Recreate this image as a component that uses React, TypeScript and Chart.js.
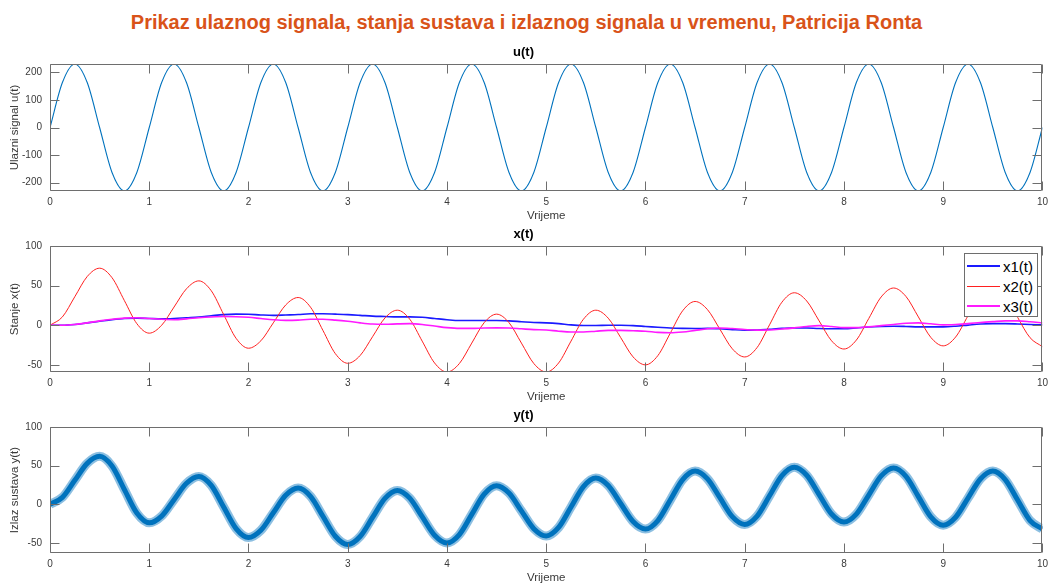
import React, { useEffect, useRef } from 'react';
import { Chart, registerables } from 'chart.js';

Chart.register(...registerables);

// ---------------- data ----------------
const MAIN_TITLE = 'Prikaz ulaznog signala, stanja sustava i izlaznog signala u vremenu, Patricija Ronta';
const X_LABEL = 'Vrijeme';

const T = [
  0, 0.125, 0.25, 0.375, 0.5, 0.625, 0.75, 0.875,
  1, 1.125, 1.25, 1.375, 1.5, 1.625, 1.75, 1.875,
  2, 2.125, 2.25, 2.375, 2.5, 2.625, 2.75, 2.875,
  3, 3.125, 3.25, 3.375, 3.5, 3.625, 3.75, 3.875,
  4, 4.125, 4.25, 4.375, 4.5, 4.625, 4.75, 4.875,
  5, 5.125, 5.25, 5.375, 5.5, 5.625, 5.75, 5.875,
  6, 6.125, 6.25, 6.375, 6.5, 6.625, 6.75, 6.875,
  7, 7.125, 7.25, 7.375, 7.5, 7.625, 7.75, 7.875,
  8, 8.125, 8.25, 8.375, 8.5, 8.625, 8.75, 8.875,
  9, 9.125, 9.25, 9.375, 9.5, 9.625, 9.75, 9.875,
  10,
];

const U = [
  0, 163, 230, 163, 0, -163, -230, -163,
  0, 163, 230, 163, 0, -163, -230, -163,
  0, 163, 230, 163, 0, -163, -230, -163,
  0, 163, 230, 163, 0, -163, -230, -163,
  0, 163, 230, 163, 0, -163, -230, -163,
  0, 163, 230, 163, 0, -163, -230, -163,
  0, 163, 230, 163, 0, -163, -230, -163,
  0, 163, 230, 163, 0, -163, -230, -163,
  0, 163, 230, 163, 0, -163, -230, -163,
  0, 163, 230, 163, 0, -163, -230, -163,
  0,
];

const X1 = [
  0, 0, 1, 3, 5, 7, 8.5, 9,
  8.5, 8, 8.5, 9.5, 10.5, 12, 13.4, 14,
  13.8, 13, 12.5, 13, 13.5, 14.5, 14.5, 14,
  13.4, 12.5, 11.5, 11, 10.5, 10.5, 10, 8.5,
  7, 6, 6, 6, 6, 5.5, 4.5, 3.5,
  3, 2, 0.5, -0.3, -0.4, 0, 0, -0.5,
  -1.5, -2.5, -3.5, -4, -4.2, -4, -4.5, -5.5,
  -6.2, -6, -5, -4, -3.3, -3.5, -4.2, -4.5,
  -4.5, -3.5, -2.2, -1.5, -1.2, -1.5, -2, -2,
  -2, -1.2, 0.2, 1.5, 2, 2, 1.6, 1,
  0.5,
];

const X2 = [
  0, 10.5, 36, 61.5, 72, 60, 31, 2,
  -10, 0, 23, 46, 56, 43.5, 13.5, -16.5,
  -29, -19.6, 3, 25.6, 35, 22.8, -6.5, -35.8,
  -48, -38.2, -14.5, 9.2, 19, 7.6, -20, -47.6,
  -59, -48.3, -22.5, 3.3, 14, 3.3, -22.5, -48.3,
  -59, -47.6, -20, 7.6, 19, 8.9, -15.5, -39.9,
  -50, -38.3, -10, 18.3, 30, 19.7, -5, -29.7,
  -40, -28.1, 0.5, 29.1, 41, 30.6, 5.5, -19.6,
  -30, -18.7, 8.5, 35.7, 47, 36.3, 10.5, -15.3,
  -26, -14.9, 12, 38.9, 50, 38.7, 10, -15.7,
  -27,
];

const X3 = [
  0, 0, 1, 3, 5.5, 7.5, 9, 9.5,
  8.5, 7.5, 7, 8, 9.5, 10.5, 11, 10.8,
  10, 8.5, 7, 6.2, 6.5, 7.5, 7.5, 6.5,
  5, 3, 1.5, 1.2, 1.7, 2, 1, -1,
  -3, -4, -4, -3.5, -3.3, -3.5, -4.5, -5.5,
  -6, -7.5, -8.5, -8.5, -7.5, -6.5, -6.5, -7,
  -7.5, -9, -9.5, -8.5, -6.5, -4.5, -3.5, -4.2,
  -5.4, -6.2, -6, -4.8, -3.3, -1.5, -0.5, -1.5,
  -3, -3, -2, -0.5, 1, 2.5, 3, 1.8,
  0.5, 1, 2, 3.5, 4.6, 5.5, 5.5, 4.5,
  3,
];

const Y = [
  0, 9, 31, 53, 62, 49.4, 19, -11.4,
  -24, -15.2, 6, 27.2, 36, 24.4, -3.5, -31.4,
  -43, -33.6, -11, 11.6, 21, 10.3, -15.5, -41.3,
  -52, -41.7, -17, 7.7, 18, 8, -16, -40,
  -50, -39.2, -13, 13.2, 24, 14.5, -8.5, -31.5,
  -41, -30, -3.5, 23, 34, 24.3, 1, -22.3,
  -32, -21, 5.5, 32, 43, 32.9, 8.5, -15.9,
  -26, -15.2, 11, 37.2, 48, 37.6, 12.5, -12.6,
  -23, -12.7, 12, 36.7, 47, 36.2, 10, -16.2,
  -27, -16.7, 8, 32.7, 43, 32, 5.5, -21,
  -32,
];

const LEGEND_LABELS = ['x1(t)', 'x2(t)', 'x3(t)'];

// ---------------- styling ----------------
const FONT = '"Liberation Sans", Arial, Helvetica, sans-serif';
const TICK_COLOR = '#3a3a3a';
const FRAME_COLOR = '#6e6e6e';
const C_U = '#0072BD';
const C_X1 = '#1a1aff';
const C_X2 = '#ff2020';
const C_X3 = '#ff1aff';

const pts = (ys: number[]) => T.map((t, i) => ({ x: t, y: ys[i] }));

const frameTicks = {
  id: 'frameTicks',
  afterDatasetsDraw(chart: any) {
    const { ctx, chartArea: a } = chart;
    const xs = chart.scales.x;
    const ys = chart.scales.y;
    const L = Math.round(a.left) + 0.5;
    const R = Math.round(a.right) - 0.5;
    const Tp = Math.round(a.top) + 0.5;
    const B = Math.round(a.bottom) - 0.5;
    const len = 9;
    ctx.save();
    ctx.strokeStyle = FRAME_COLOR;
    ctx.lineWidth = 1;
    ctx.beginPath();
    ctx.rect(L, Tp, R - L, B - Tp);
    xs.ticks.forEach((tk: any) => {
      const p = Math.round(xs.getPixelForValue(tk.value)) + 0.5;
      ctx.moveTo(p, B);
      ctx.lineTo(p, B - len);
      ctx.moveTo(p, Tp);
      ctx.lineTo(p, Tp + len);
    });
    ys.ticks.forEach((tk: any) => {
      const p = Math.round(ys.getPixelForValue(tk.value)) + 0.5;
      ctx.moveTo(L, p);
      ctx.lineTo(L + len, p);
      ctx.moveTo(R, p);
      ctx.lineTo(R - len, p);
    });
    ctx.stroke();
    ctx.restore();
  },
};

function makeConfig(title: string, yLabel: string, yMin: number, yMax: number, yStep: number, datasets: any[]) {
  return {
    type: 'line',
    data: { datasets },
    plugins: [frameTicks],
    options: {
      animation: false,
      responsive: false,
      maintainAspectRatio: false,
      layout: { padding: { left: 0, right: 6, top: 0, bottom: 0 } },
      elements: { point: { radius: 0 } },
      plugins: {
        legend: { display: false },
        tooltip: { enabled: false },
        title: {
          display: true,
          text: title,
          color: '#000',
          font: { family: FONT, size: 13, weight: 'bold' },
          padding: { top: 3.7, bottom: 3.7 },
        },
      },
      scales: {
        x: {
          type: 'linear',
          min: 0,
          max: 10,
          ticks: {
            stepSize: 1,
            padding: 5,
            color: TICK_COLOR,
            font: { family: FONT, size: 10 },
            maxRotation: 0,
            autoSkip: false,
          },
          grid: { display: false, drawTicks: false },
          border: { display: false },
          title: {
            display: true,
            text: X_LABEL,
            color: TICK_COLOR,
            font: { family: FONT, size: 11.5 },
            padding: 0,
          },
          afterFit: (s: any) => {
            s.height = 32;
          },
        },
        y: {
          type: 'linear',
          min: yMin,
          max: yMax,
          ticks: {
            stepSize: yStep,
            includeBounds: false,
            padding: 8,
            color: TICK_COLOR,
            font: { family: FONT, size: 10 },
          },
          grid: { display: false, drawTicks: false },
          border: { display: false },
          title: {
            display: true,
            text: yLabel,
            color: TICK_COLOR,
            font: { family: FONT, size: 11.5 },
            padding: { top: 8, bottom: 0 },
          },
          afterFit: (s: any) => {
            s.width = 50;
          },
        },
      },
    },
  };
}

function SubChart({ top, height, config }: { top: number; height: number; config: any }) {
  const ref = useRef<HTMLCanvasElement | null>(null);
  useEffect(() => {
    if (!ref.current) return;
    const chart = new Chart(ref.current, config);
    return () => chart.destroy();
  }, []);
  return (
    <div style={{ position: 'absolute', left: 0, top, width: 1053, height }}>
      <canvas ref={ref} width={1053} height={height} style={{ display: 'block' }} />
    </div>
  );
}

const line = (data: number[], color: string, width: number, order: number, extra: any = {}) => ({
  data: pts(data),
  borderColor: color,
  backgroundColor: color,
  borderWidth: width,
  pointRadius: 0,
  fill: false,
  cubicInterpolationMode: 'monotone',
  order,
  ...extra,
});

const cfgU = makeConfig('u(t)', 'Ulazni signal u(t)', -230, 230, 100, [line(U, C_U, 1.1, 1)]);
const cfgX = makeConfig('x(t)', 'Stanje x(t)', -59, 100, 50, [
  line(X1, C_X1, 1.6, 3),
  line(X2, C_X2, 1, 2),
  line(X3, C_X3, 1.6, 1),
]);
const cfgY = makeConfig('y(t)', 'Izlaz sustava y(t)', -63, 100, 50, [
  line(Y, 'rgba(0,114,189,0.45)', 9, 2),
  line(Y, C_U, 5, 1),
]);

const legendColors = [C_X1, C_X2, C_X3];
const legendWidths = [2, 1, 2];
const legendRows = [13, 33, 53];

export default function App() {
  return (
    <div
      style={{
        position: 'absolute',
        left: 0,
        top: 0,
        width: 1053,
        height: 585,
        background: '#fff',
        overflow: 'hidden',
      }}
    >
      <div
        style={{
          position: 'absolute',
          left: 0,
          top: 12,
          width: 1053,
          textAlign: 'center',
          fontFamily: FONT,
          fontWeight: 'bold',
          fontSize: 20,
          lineHeight: '20px',
          color: '#D95319',
        }}
      >
        {MAIN_TITLE}
      </div>
      <SubChart top={41} height={182} config={cfgU} />
      <SubChart top={223} height={181} config={cfgX} />
      <SubChart top={404} height={181} config={cfgY} />
      <div
        style={{
          position: 'absolute',
          left: 964,
          top: 253,
          width: 74,
          height: 64,
          boxSizing: 'border-box',
          border: '1px solid #6e6e6e',
          background: '#fff',
        }}
      >
        {LEGEND_LABELS.map((lab, i) => (
          <React.Fragment key={lab}>
            <div
              style={{
                position: 'absolute',
                left: 2,
                top: legendRows[i] - legendWidths[i] / 2 - 1,
                width: 33,
                height: legendWidths[i],
                background: legendColors[i],
              }}
            />
            <div
              style={{
                position: 'absolute',
                left: 38,
                top: legendRows[i] - 8.5,
                fontFamily: FONT,
                fontSize: 15,
                lineHeight: '15px',
                color: '#000',
                whiteSpace: 'nowrap',
              }}
            >
              {lab}
            </div>
          </React.Fragment>
        ))}
      </div>
    </div>
  );
}
